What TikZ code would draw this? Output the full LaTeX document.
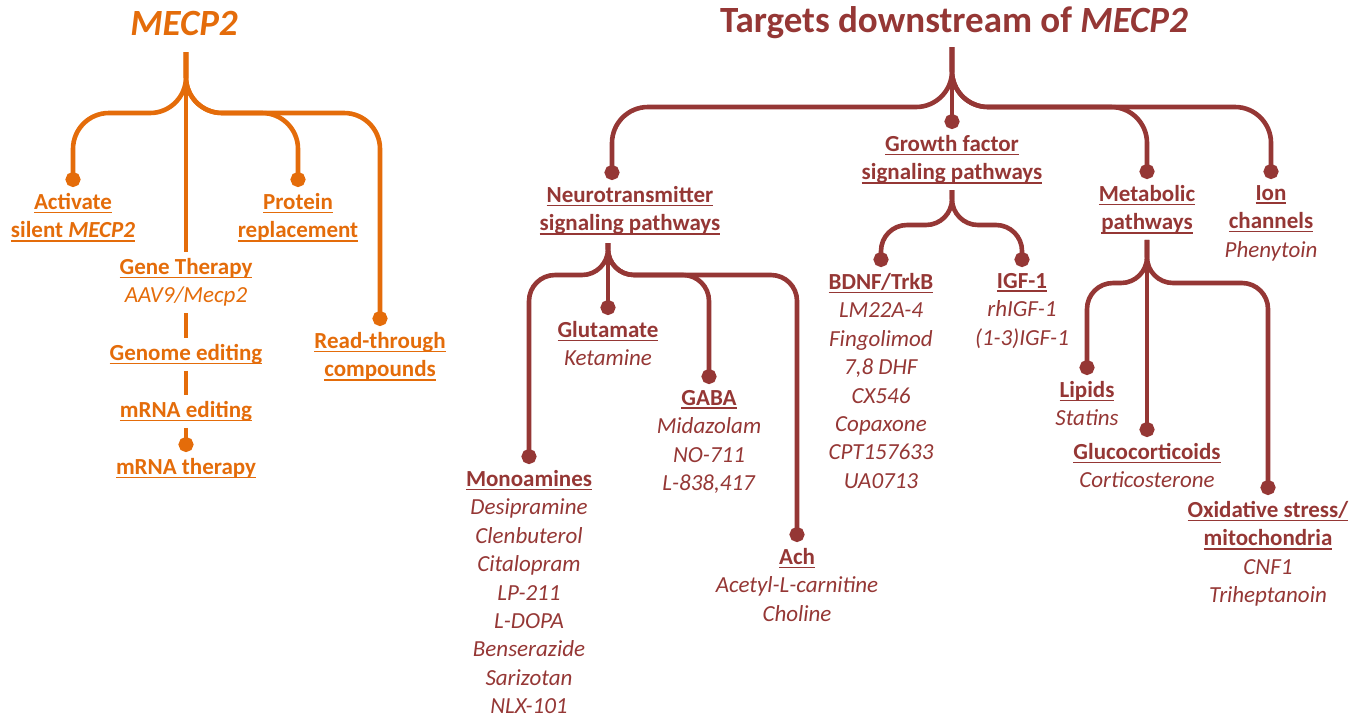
\documentclass[tikz,border=0pt]{standalone}
\usepackage{fontspec}
\setmainfont{Carlito}
\usepackage{tikz}
\usetikzlibrary{arrows.meta}

\definecolor{mecporange}{HTML}{E46C0A}
\definecolor{targetred}{HTML}{953735}

\newcommand{\undl}[1]{\setbox0=\hbox{#1}\rlap{\rule[-1.8pt]{\wd0}{0.8pt}}\box0}
\newcommand{\hd}[1]{\undl{\textbf{#1}}}

\tikzstyle{heading} = [font=\fontsize{18.5}{22}\selectfont\bfseries]
\tikzstyle{leaf} = [anchor=north, align=center, inner xsep=0pt, inner ysep=3pt,
    font=\fontsize{11.5}{14.2}\selectfont]
\tikzstyle{stem} = [draw, line width=2.3pt]
\tikzstyle{branch} = [stem, -{Circle[length=7.5pt]}, rounded corners=18pt]
\tikzstyle{twig} = [branch, rounded corners=13pt]

\begin{document}
\begin{tikzpicture}[x=0.5pt, y=-0.5pt]
  \useasboundingbox (0,0) rectangle (1368,719);

  \begin{scope}[color=mecporange]
  \node [heading] (mecp2) at (184,23) {\textit{MECP2}};
  \coordinate (root1) at (186,52);
  \coordinate (fork1) at (0,113);

  \node [leaf] (act) at (73,187) {\hd{Activate}\\\hd{silent \textit{MECP2}}};
  \node [leaf] (prot) at (298,187) {\hd{Protein}\\\hd{replacement}};
  \node [leaf] (read) at (380,326) {\hd{Read-through}\\\hd{compounds}};
  \node [leaf] (gene) at (186,252) {\hd{Gene Therapy}\\\textit{AAV9/Mecp2}};
  \node [leaf] (genome) at (186,338) {\hd{Genome editing}};
  \node [leaf] (mrnaed) at (186,395) {\hd{mRNA editing}};
  \node [leaf] (mrnath) at (186,452) {\hd{mRNA therapy}};

    \path [branch] (root1) |- (act.north |- fork1) -- (act.north);
    \path [branch] (root1) |- (prot.north |- fork1) -- (prot.north);
    \path [branch] (root1) |- (read.north |- fork1) -- (read.north);
    \path [stem] (root1) -- (gene.north);
    \path [stem] (gene.south) -- (genome.north);
    \path [stem] (genome.south) -- (mrnaed.north);
    \path [stem, -{Circle[length=7.5pt]}] (mrnaed.south) -- (mrnath.north);
  \end{scope}

  \begin{scope}[color=targetred]
  \node [heading] (targets) at (954,23) {Targets downstream of \textit{MECP2}};
  \coordinate (root2) at (952,47);
  \coordinate (fork2) at (0,107);

  \node [leaf] (neuro) at (630,180) {\hd{Neurotransmitter}\\\hd{signaling pathways}};
  \coordinate (neurotop) at (612,180);
  \node [leaf] (growth) at (952,129) {\hd{Growth factor}\\\hd{signaling pathways}};
  \node [leaf] (metab) at (1147,179) {\hd{Metabolic}\\\hd{pathways}};
  \node [leaf] (ion) at (1271,179) {\hd{Ion}\\\hd{channels}\\\textit{Phenytoin}};

    \path [branch] (root2) |- (neurotop |- fork2) -- (neurotop);
    \path [branch] (root2) -- (growth.north);
    \path [branch] (root2) |- (metab.north |- fork2) -- (metab.north);
    \path [branch] (root2) |- (ion.north |- fork2) -- (ion.north);

  \coordinate (root3) at (608,243);
  \coordinate (fork3) at (0,275);
  \node [leaf] (glut) at (608,315) {\hd{Glutamate}\\\textit{Ketamine}};
  \node [leaf] (gaba) at (709,384) {\hd{GABA}\\\textit{Midazolam}\\\textit{NO-711}\\\textit{L-838,417}};
  \node [leaf] (mono) at (529,464) {\hd{Monoamines}\\\textit{Desipramine}\\\textit{Clenbuterol}\\
    \textit{Citalopram}\\\textit{LP-211}\\\textit{L-DOPA}\\\textit{Benserazide}\\\textit{Sarizotan}\\\textit{NLX-101}};
  \node [leaf] (ach) at (797,542) {\hd{Ach}\\\textit{Acetyl-L-carnitine}\\\textit{Choline}};

    \path [twig] (root3) |- (mono.north |- fork3) -- (mono.north);
    \path [twig] (root3) -- (glut.north);
    \path [twig] (root3) |- (gaba.north |- fork3) -- (gaba.north);
    \path [twig] (root3) |- (ach.north |- fork3) -- (ach.north);

  \coordinate (fork4) at (0,225);
  \node [leaf] (bdnf) at (881,267) {\hd{BDNF/TrkB}\\\textit{LM22A-4}\\\textit{Fingolimod}\\\textit{7,8 DHF}\\
    \textit{CX546}\\\textit{Copaxone}\\\textit{CPT157633}\\\textit{UA0713}};
  \node [leaf] (igf) at (1022,267) {\hd{IGF-1}\\\textit{rhIGF-1}\\\textit{(1-3)IGF-1}};

    \path [twig] (growth.south) |- (bdnf.north |- fork4) -- (bdnf.north);
    \path [twig] (growth.south) |- (igf.north |- fork4) -- (igf.north);

  \coordinate (fork5) at (0,283);
  \node [leaf] (lipids) at (1087,375) {\hd{Lipids}\\\textit{Statins}};
  \node [leaf] (gluco) at (1147,437) {\hd{Glucocorticoids}\\\textit{Corticosterone}};
  \node [leaf] (oxid) at (1268,495) {\hd{Oxidative stress/}\\\hd{mitochondria}\\\textit{CNF1}\\\textit{Triheptanoin}};

    \path [twig] (metab.south) |- (lipids.north |- fork5) -- (lipids.north);
    \path [twig] (metab.south) -- (gluco.north);
    \path [twig] (metab.south) |- (oxid.north |- fork5) -- (oxid.north);
  \end{scope}
\end{tikzpicture}
\end{document}
